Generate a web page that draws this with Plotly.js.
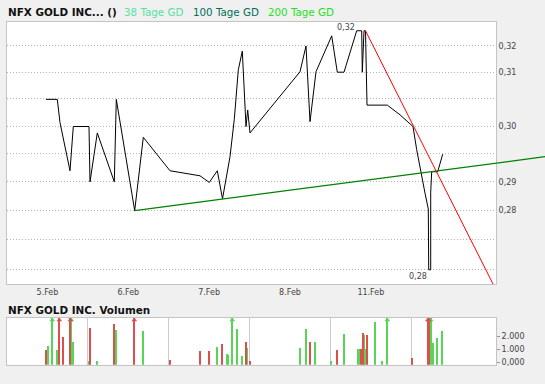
<!DOCTYPE html>
<html>
<head>
<meta charset="utf-8">
<script src="https://cdn.plot.ly/plotly-3.0.1.min.js"></script>
<style>
  html, body { margin: 0; padding: 0; background: #f0f0f0; }
  #chart { width: 545px; height: 384px; }
</style>
</head>
<body>
<div id="chart"></div>
<script>
// ---- Data (x in trading-day units: 0 = start of 5.Feb, 1 = start of 6.Feb, ...) ----
const dayLabels  = ['5.Feb', '6.Feb', '7.Feb', '8.Feb', '11.Feb'];
const dayCenters = [0.5, 1.5, 2.5, 3.5, 4.5];
const dayBounds  = [0, 1, 2, 3, 4, 5];

const priceX = [0.4824,0.6221,0.6555,0.7792,0.8200,1.0142,1.0266,1.1169,1.3271,1.3519,
                1.5795,1.6858,2.0161,2.3871,2.5022,2.6011,2.6654,2.7582,2.8114,2.8609,
                2.9103,2.9561,2.9771,3.0056,3.6240,3.6982,3.7477,3.8219,4.0161,4.0853,
                4.1682,4.3253,4.3872,4.3946,4.4156,4.4342,4.4527,4.7038,4.8609,4.9845,
                5.0216,5.0674,5.1169,5.1701,5.2109,5.2159,5.2406,5.2406,5.2529,5.3271,5.3889];
const priceY = [0.3099,0.3099,0.3051,0.2954,0.3043,0.3043,0.2932,0.3030,0.2932,0.3099,
                0.2876,0.3021,0.2954,0.2944,0.2931,0.2954,0.2899,0.2982,0.3058,0.3161,
                0.3201,0.3043,0.3077,0.3030,0.3157,0.3212,0.3053,0.3157,0.3234,0.3156,
                0.3156,0.3245,0.3245,0.3156,0.3245,0.3245,0.3087,0.3087,0.3067,0.3047,
                0.3043,0.2996,0.2952,0.2910,0.2879,0.2764,0.2764,0.2912,0.2952,0.2952,0.2987];

// support (green) and resistance (red) trend lines
const supX = [1.5795, 6.6543];
const supY = [0.2876, 0.2982];
const resX = [4.4342, 6.0173];
const resY = [0.3245, 0.2736];

// price axis grid
const gridVals   = [0.3212,0.3156,0.3100,0.3044,0.2988,0.2932,0.2876,0.2820,0.2764];
const gridLabels = ['0,32','0,31','','0,30','','0,29','0,28','',''];

// volume
const volX = [0.4861,0.5108,0.5603,0.6221,0.6469,0.6963,0.7829,0.7953,0.8200,1.0179,
              1.0303,1.1169,1.3271,1.3519,1.5745,1.6858,2.0161,2.3908,2.5022,2.6011,
              2.6630,2.7248,2.7372,2.7866,2.8485,2.9103,2.9598,2.9722,3.0093,3.6277,
              3.7019,3.7514,3.8132,4.0111,4.0853,4.1719,4.3451,4.3599,4.3785,4.4069,
              4.4193,4.4317,4.4564,4.5553,4.6419,4.7038,5.0130,5.2053,5.2177,5.2406,
              5.2727,5.3222,5.3841];
const volY = [946,1254,4200,946,4200,1946,4200,4200,1538,50,
              2638,50,2923,2487,4200,2385,150,846,846,1154,
              1385,615,538,4200,2538,462,1538,1077,80,1077,
              2538,1538,1538,80,923,2154,1000,1000,1000,2231,
              2077,1000,2077,3077,80,4200,308,4200,4200,4200,
              1462,1846,2385];
const volUp = [0,1,1,1,0,0,0,1,1,1,
               0,1,0,1,0,1,0,0,0,1,
               0,1,1,1,1,1,0,1,0,1,
               1,0,1,1,0,1,1,1,0,0,
               1,1,0,1,1,1,0,0,0,1,
               1,1,1];
const volTickVals = [0, 1000, 2000];
const volTickText = ['0,000', '1.000', '2.000'];
const volGridVals = [1000, 2000];

// ---- Layout constants ----
const W = 545, H = 384;
const PL = 7, PR = 496, PT = 21.7, PB = 284;      // price panel (px)
const VT = 317.7, VB = 364.7;                     // volume panel (px)
const X_MAX = 6.0482;
const X3_MAX = X_MAX * (W - PL) / (PR - PL);
const Y_RANGE = [Math.log10(0.27378), Math.log10(0.32648)];
const V_MIN = -208, V_MAX = 3408, V_ARROW = 3230;
const BAR_W = 0.021;
const GREEN = '#55d655', RED = '#dd4f4f';
const FONT = 'DejaVu Sans';

const XD  = [PL / W, PR / W];
const XD3 = [PL / W, 1];
const YD  = [1 - PB / H, 1 - PT / H];
const YDV = [1 - VB / H, 1 - VT / H];

function pick(arr, up) { return arr.filter((_, i) => volUp[i] === up); }
function volTrace(up, color) {
  const xs = pick(volX, up), ys = pick(volY, up);
  return {
    type: 'bar', x: xs, y: ys.map(v => v - V_MIN), base: V_MIN,
    width: BAR_W, marker: { color: color, line: { width: 0 } },
    xaxis: 'x2', yaxis: 'y2', hoverinfo: 'skip'
  };
}
function arrowTrace(up, color) {
  const xs = pick(volX, up), ys = pick(volY, up);
  const ax = [], ay = [];
  xs.forEach((x, i) => { if (ys[i] > V_MAX) { ax.push(x); ay.push(V_ARROW); } });
  return {
    type: 'scatter', mode: 'markers', x: ax, y: ay, cliponaxis: false,
    marker: { symbol: 'triangle-up', size: 5, color: color },
    xaxis: 'x2', yaxis: 'y2', hoverinfo: 'skip'
  };
}

const traces = [
  { type: 'scatter', mode: 'lines', x: priceX, y: priceY,
    line: { color: '#000000', width: 1 }, xaxis: 'x', yaxis: 'y', hoverinfo: 'skip' },
  { type: 'scatter', mode: 'lines', x: supX, y: supY,
    line: { color: '#008000', width: 1.3 }, xaxis: 'x3', yaxis: 'y3', hoverinfo: 'skip' },
  { type: 'scatter', mode: 'lines', x: resX, y: resY,
    line: { color: '#ff0000', width: 1 }, xaxis: 'x3', yaxis: 'y3', hoverinfo: 'skip' },
  volTrace(1, GREEN), volTrace(0, RED),
  arrowTrace(1, GREEN), arrowTrace(0, RED)
];

// max / min labels
let iMax = 0, iMin = 0;
priceY.forEach((v, i) => { if (v > priceY[iMax]) iMax = i; if (v < priceY[iMin]) iMin = i; });
const fmt = v => v.toFixed(2).replace('.', ',');

const axisFont = { family: FONT, size: 8, color: '#444444' };
const FRAME = '#c4c4c4';

const layout = {
  width: W, height: H,
  margin: { l: 0, r: 0, t: 0, b: 0, pad: 0 },
  paper_bgcolor: '#f0f0f0',
  plot_bgcolor: 'rgba(0,0,0,0)',
  showlegend: false,
  bargap: 0,
  xaxis: {
    domain: XD, range: [0, X_MAX], anchor: 'y',
    tickmode: 'array', tickvals: dayCenters, ticktext: dayLabels,
    ticks: '', showgrid: false, zeroline: false,
    showline: true, mirror: true, linecolor: FRAME, linewidth: 1,
    tickfont: axisFont, fixedrange: true
  },
  xaxis4: {
    overlaying: 'x', anchor: 'y', range: [0, X_MAX],
    tickmode: 'array', tickvals: dayBounds, showticklabels: false,
    ticks: 'outside', ticklen: 4, tickcolor: '#555555', tickwidth: 1,
    showgrid: true, gridcolor: '#cccccc', gridwidth: 1,
    zeroline: false, showline: false, fixedrange: true
  },
  yaxis: {
    domain: YD, type: 'log', range: Y_RANGE, anchor: 'x', side: 'right',
    tickmode: 'array', tickvals: gridVals, ticktext: gridLabels,
    ticks: '', showgrid: true, gridcolor: '#b4b4b4', griddash: '1px,2px', gridwidth: 1,
    zeroline: false, showline: true, mirror: true, linecolor: FRAME, linewidth: 1,
    tickfont: axisFont, fixedrange: true
  },
  xaxis2: {
    domain: XD, range: [0, X_MAX], anchor: 'y2',
    tickmode: 'array', tickvals: dayBounds, showticklabels: false, ticks: '',
    showgrid: true, gridcolor: '#cccccc', gridwidth: 1,
    zeroline: false, showline: true, mirror: true, linecolor: FRAME, linewidth: 1,
    fixedrange: true
  },
  yaxis2: {
    domain: YDV, range: [V_MIN, V_MAX], anchor: 'x2', side: 'right',
    tickmode: 'array', tickvals: volTickVals, ticktext: volTickText,
    ticks: 'outside', ticklen: 3, tickcolor: '#999999',
    showgrid: false, zeroline: false,
    showline: true, mirror: true, linecolor: FRAME, linewidth: 1,
    tickfont: axisFont, fixedrange: true
  },
  yaxis4: {
    overlaying: 'y2', anchor: 'x2', side: 'right', range: [V_MIN, V_MAX],
    tickmode: 'array', tickvals: volGridVals, showticklabels: false, ticks: '',
    showgrid: true, gridcolor: '#cccccc', gridwidth: 1,
    zeroline: false, showline: false, fixedrange: true
  },
  xaxis3: { domain: XD3, range: [0, X3_MAX], anchor: 'y3', visible: false, fixedrange: true },
  yaxis3: { domain: YD, type: 'log', range: Y_RANGE, anchor: 'x3', visible: false, fixedrange: true },
  shapes: [
    { type: 'rect', xref: 'paper', yref: 'paper', layer: 'below',
      x0: XD[0], x1: XD[1], y0: YD[0], y1: YD[1], fillcolor: '#ffffff', line: { width: 0 } },
    { type: 'rect', xref: 'paper', yref: 'paper', layer: 'below',
      x0: XD[0], x1: XD[1], y0: YDV[0], y1: YDV[1], fillcolor: '#ffffff', line: { width: 0 } }
  ],
  annotations: [
    { xref: 'paper', yref: 'paper', x: 6 / W, y: 1 - 12 / H, xanchor: 'left', yanchor: 'middle',
      text: '<b>NFX GOLD INC... ()</b>', showarrow: false,
      font: { family: FONT, size: 10.4, color: '#111111' } },
    { xref: 'paper', yref: 'paper', x: 122.3 / W, y: 1 - 12 / H, xanchor: 'left', yanchor: 'middle',
      text: '38 Tage GD', showarrow: false,
      font: { family: FONT, size: 10.3, color: '#55e3a0' } },
    { xref: 'paper', yref: 'paper', x: 190.7 / W, y: 1 - 12 / H, xanchor: 'left', yanchor: 'middle',
      text: '100 Tage GD', showarrow: false,
      font: { family: FONT, size: 10.3, color: '#00705a' } },
    { xref: 'paper', yref: 'paper', x: 265.7 / W, y: 1 - 12 / H, xanchor: 'left', yanchor: 'middle',
      text: '200 Tage GD', showarrow: false,
      font: { family: FONT, size: 10.3, color: '#1ee01e' } },
    { xref: 'paper', yref: 'paper', x: 6 / W, y: 1 - 310.4 / H, xanchor: 'left', yanchor: 'middle',
      text: '<b>NFX GOLD INC. Volumen</b>', showarrow: false,
      font: { family: FONT, size: 10.4, color: '#111111' } },
    { xref: 'x', yref: 'y', x: priceX[iMax], y: Math.log10(priceY[iMax]),
      xanchor: 'right', yanchor: 'bottom', yshift: -3, text: fmt(priceY[iMax]), showarrow: false,
      font: { family: FONT, size: 8, color: '#444444' } },
    { xref: 'x', yref: 'y', x: priceX[iMin], y: Math.log10(priceY[iMin]),
      xanchor: 'right', yanchor: 'top', text: fmt(priceY[iMin]), showarrow: false,
      font: { family: FONT, size: 8, color: '#444444' } }
  ]
};

Plotly.newPlot('chart', traces, layout, { staticPlot: true, displayModeBar: false });
</script>
</body>
</html>
